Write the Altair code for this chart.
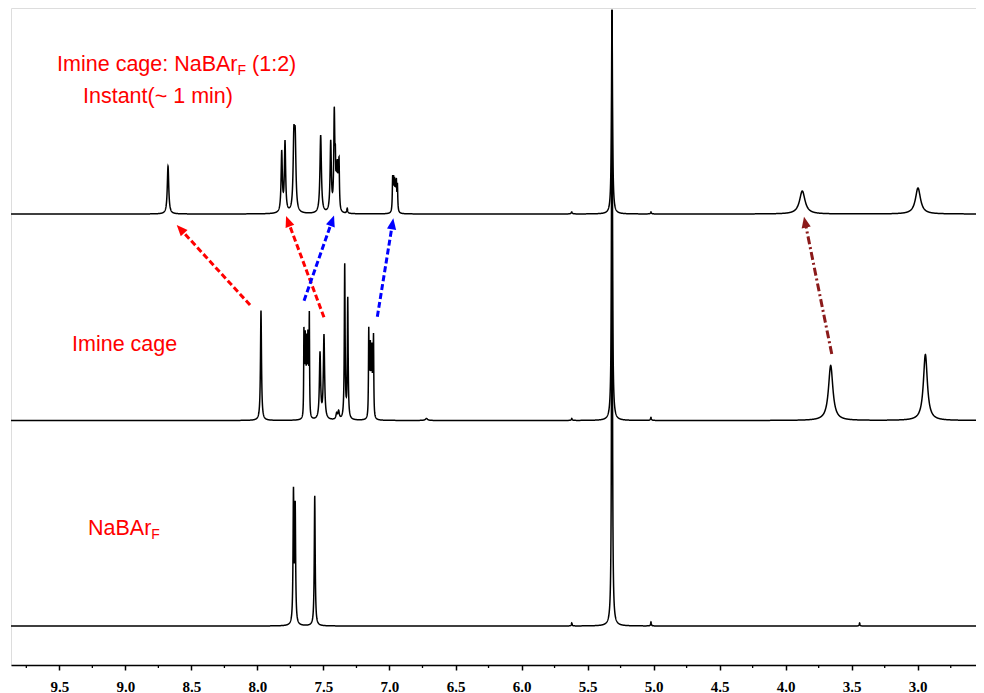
import math
import altair as alt
import numpy as np
import pandas as pd

# ---------------- data ----------------
# x axis (ppm, reversed)
ppm_left, ppm_right = 9.866, 2.5587
major_ticks = [9.5, 9.0, 8.5, 8.0, 7.5, 7.0, 6.5, 6.0, 5.5, 5.0, 4.5, 4.0, 3.5, 3.0, 2.5]
minor_ticks = [9.75, 9.25, 8.75, 8.25, 7.75, 7.25, 6.75, 6.25, 5.75, 5.25, 4.75, 4.25, 3.75, 3.25, 2.75]

# vertical offsets (baseline level) of the three stacked spectra
spectrum_names = ["Imine cage: NaBArF (1:2)", "Imine cage", "NaBArF"]
spectrum_offsets = [451, 244.5, 39]

# peak lists: position (ppm), height, half width (ppm)
top_ppm = [8.677, 7.816, 7.791, 7.724, 7.714, 7.521, 7.445, 7.418, 7.410, 7.402, 7.395, 7.388, 7.382,
           7.320, 6.976, 6.969, 6.962, 6.955, 6.948, 6.940, 5.620, 5.315, 5.020, 3.874, 2.998]
top_h = [48, 60, 70, 68, 66, 78, 70, 97, 38, 32, 36, 30, 46,
         5, 32, 28, 26, 24, 27, 26, 2, 204, 2, 23, 26]
top_w = [0.0065, 0.0055, 0.0055, 0.0065, 0.0065, 0.0065, 0.0055, 0.0045, 0.003, 0.003, 0.003, 0.003, 0.0035,
         0.004, 0.003, 0.003, 0.003, 0.003, 0.003, 0.003, 0.005, 0.0045, 0.004, 0.025, 0.023]

mid_ppm = [7.973, 7.648, 7.643, 7.638, 7.633, 7.628, 7.623, 7.618, 7.613, 7.607,
           7.526, 7.496, 7.400, 7.385, 7.339, 7.316,
           7.157, 7.151, 7.145, 7.139, 7.133, 7.127, 7.121,
           6.720, 5.620, 5.315, 5.020, 3.659, 2.942]
mid_h = [110, 82, 45, 70, 42, 66, 42, 70, 46, 100,
         66, 84, 6, 8, 154, 120,
         84, 48, 62, 50, 60, 46, 78,
         2, 2, 411, 3, 55, 66]
mid_w = [0.0045, 0.002, 0.002, 0.002, 0.002, 0.002, 0.002, 0.002, 0.002, 0.0022,
         0.0055, 0.0055, 0.006, 0.006, 0.0035, 0.0035,
         0.0024, 0.0022, 0.0022, 0.0022, 0.0022, 0.0022, 0.0024,
         0.01, 0.004, 0.0038, 0.004, 0.02, 0.018]

bot_ppm = [7.727, 7.714, 7.566, 5.620, 5.315, 5.020, 3.440]
bot_h = [130, 115, 130, 3, 616, 4, 3]
bot_w = [0.0038, 0.0038, 0.004, 0.003, 0.0032, 0.003, 0.003]

# annotation texts (anchor ppm, level)
label_text = ["Imine cage: NaBAr", "Instant(~ 1 min)", "Imine cage", "NaBAr"]
label_ppm = [9.517, 9.321, 9.404, 9.283]
label_level = [594, 562, 314, 130]

# arrows: tail -> tip (ppm, level)
arrow_tail_ppm = [8.056, 7.496, 7.647, 7.092, 3.651]
arrow_tail_lvl = [360, 347.7, 364.3, 348.3, 311]
arrow_tip_ppm = [8.611, 7.783, 7.420, 6.971, 3.861]
arrow_tip_lvl = [440, 449, 449.5, 446.7, 448.3]
arrow_color = ["#ff0000", "#ff0000", "#0000ff", "#0000ff", "#8b1a1a"]
arrow_dash = ["dash", "dash", "dash", "dash", "dashdot"]

# ---------------- build tables ----------------
W, H = 965, 657
px_per_ppm = W / (ppm_left - ppm_right)

grid = np.arange(ppm_right, ppm_left, 0.001)
rows = []
for name, off, (pp, hh, ww) in zip(spectrum_names, spectrum_offsets,
                                    [(top_ppm, top_h, top_w), (mid_ppm, mid_h, mid_w), (bot_ppm, bot_h, bot_w)]):
    xs = np.unique(np.concatenate([grid, np.array(pp)]))
    ys = np.full_like(xs, float(off))
    for p, h, w in zip(pp, hh, ww):
        ys += h * w * w / ((xs - p) ** 2 + w * w)
    rows.append(pd.DataFrame({"ppm": xs, "level": ys, "spectrum": name}))
spec = pd.concat(rows, ignore_index=True)

arr_rows = []
for i in range(len(arrow_tail_ppm)):
    dxp = -(arrow_tip_ppm[i] - arrow_tail_ppm[i]) * px_per_ppm
    dyp = -(arrow_tip_lvl[i] - arrow_tail_lvl[i])
    L = math.hypot(dxp, dyp)
    ux, uy = dxp / L, dyp / L
    back = 8.0
    end_ppm = arrow_tip_ppm[i] + (back * ux) / px_per_ppm
    end_lvl = arrow_tip_lvl[i] + back * uy
    ang = math.degrees(math.atan2(dxp, -dyp)) % 360
    arr_rows.append(dict(x=arrow_tail_ppm[i], y=arrow_tail_lvl[i], x2=end_ppm, y2=end_lvl,
                         tx=arrow_tip_ppm[i], ty=arrow_tip_lvl[i], angle=ang,
                         color=arrow_color[i], dash=arrow_dash[i], id=i))
arrows = pd.DataFrame(arr_rows)

xscale = alt.Scale(domain=[ppm_right, ppm_left], reverse=True, nice=False, zero=False)
yscale = alt.Scale(domain=[0, H], nice=False, zero=False)

axis = alt.Axis(values=major_ticks, format=".1f", title=None, grid=False,
                domainColor="black", domainWidth=1.6, tickColor="black", tickWidth=1.5,
                tickSize=5, labelFont="Liberation Serif", labelFontWeight="bold",
                labelFontSize=15, labelColor="black", labelPadding=9, labelFlush=False,
                labelOverlap=False)

spectra = alt.Chart(spec).mark_line(color="black", strokeWidth=1.5).encode(
    x=alt.X("ppm:Q", scale=xscale, axis=axis),
    y=alt.Y("level:Q", scale=yscale, axis=None),
    detail="spectrum:N",
)

minor = alt.Chart(pd.DataFrame({"ppm": minor_ticks})).mark_rule(color="black", strokeWidth=1.3).encode(
    x=alt.X("ppm:Q", scale=xscale),
    y=alt.value(H),
    y2=alt.value(H + 3),
)

layers = [spectra, minor]
for i, r in arrows.iterrows():
    dash = [6, 3] if r["dash"] == "dash" else [8, 3, 2, 3]
    d = arrows.iloc[[i]]
    layers.append(alt.Chart(d).mark_rule(color=r["color"], strokeWidth=3, strokeDash=dash).encode(
        x=alt.X("x:Q", scale=xscale), y=alt.Y("y:Q", scale=yscale),
        x2="x2:Q", y2="y2:Q"))
    layers.append(alt.Chart(d).mark_point(shape="M0,0L0.42,1L-0.42,1Z", size=484, filled=True,
                                          opacity=1, color=r["color"], strokeWidth=0).encode(
        x=alt.X("tx:Q", scale=xscale), y=alt.Y("ty:Q", scale=yscale),
        angle=alt.Angle("angle:Q", scale=None)))

labels = pd.DataFrame({"t": label_text, "x": label_ppm, "y": label_level})
layers.append(alt.Chart(labels).mark_text(align="left", baseline="alphabetic", font="Liberation Sans",
                                          fontSize=21.5, color="#ff0000").encode(
    x=alt.X("x:Q", scale=xscale), y=alt.Y("y:Q", scale=yscale), text="t:N"))

# subscripts / continuations
fs = 21.5
w_main = {0: 8.392 * fs, 3: 2.945 * fs}
sub_rows = [
    dict(t="F", x=label_ppm[0], y=label_level[0], dx=w_main[0], dy=4, size=14),
    dict(t="F", x=label_ppm[3], y=label_level[3], dx=w_main[3], dy=4, size=14),
]
for s in sub_rows:
    layers.append(alt.Chart(pd.DataFrame([s])).mark_text(
        align="left", baseline="alphabetic", font="Liberation Sans", fontSize=s["size"],
        color="#ff0000", dx=s["dx"], dy=s["dy"]).encode(
        x=alt.X("x:Q", scale=xscale), y=alt.Y("y:Q", scale=yscale), text="t:N"))
layers.append(alt.Chart(pd.DataFrame([dict(t="(1:2)", x=label_ppm[0], y=label_level[0])])).mark_text(
    align="left", baseline="alphabetic", font="Liberation Sans", fontSize=fs,
    color="#ff0000", dx=w_main[0] + 0.611 * 14 + 0.278 * fs).encode(
    x=alt.X("x:Q", scale=xscale), y=alt.Y("y:Q", scale=yscale), text="t:N"))

chart = alt.layer(*layers).properties(
    width=W, height=H,
    autosize=alt.AutoSizeParams(type="none"),
    padding={"left": 3, "top": 0, "right": 0, "bottom": 28},
).configure_view(stroke=None).configure(background="white")

chart.save("out.html", embed_options={"renderer": "svg", "actions": False})
